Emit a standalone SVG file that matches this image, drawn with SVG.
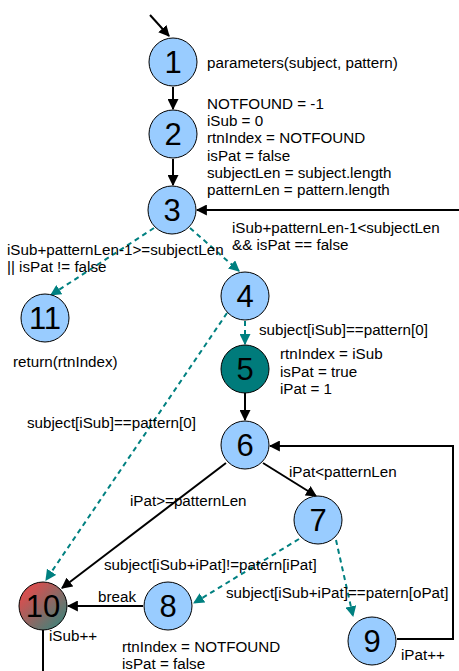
<svg xmlns="http://www.w3.org/2000/svg" width="459" height="671" viewBox="0 0 459 671">
<defs>
<style>
.n{fill:#99ccff;stroke:#000;stroke-width:1}
.num{font-family:"Liberation Sans",Arial,sans-serif;font-size:31px;text-anchor:middle;fill:#000}
.t{font-family:"Liberation Sans",Arial,sans-serif;font-size:15.2px;fill:#000}
.s{fill:none;stroke:#000;stroke-width:2}
.d{fill:none;stroke:#008080;stroke-width:2;stroke-dasharray:5,4}
</style>
<marker id="ab" viewBox="0 0 10 10" refX="9" refY="5" markerWidth="5.5" markerHeight="5.5" orient="auto" markerUnits="strokeWidth"><path d="M0,0 L10,5 L0,10 z" fill="#000"/></marker>
<marker id="at" viewBox="0 0 10 10" refX="9" refY="5" markerWidth="5.5" markerHeight="5.5" orient="auto" markerUnits="strokeWidth"><path d="M0,0 L10,5 L0,10 z" fill="#008080"/></marker>
<linearGradient id="g10" x1="0" y1="0" x2="1" y2="1"><stop offset="0.2" stop-color="#d45050"/><stop offset="1" stop-color="#2a8a80"/></linearGradient>
</defs>
<g id="connectors">
<line class="s" x1="150" y1="15" x2="169" y2="36" marker-end="url(#ab)"/>
<line class="s" x1="173" y1="87" x2="173" y2="109" marker-end="url(#ab)"/>
<line class="s" x1="173" y1="159" x2="173" y2="185" marker-end="url(#ab)"/>
<line class="s" x1="459" y1="210" x2="197" y2="210" marker-end="url(#ab)"/>
<line class="d" x1="154" y1="228" x2="51" y2="295" marker-end="url(#at)"/>
<line class="d" x1="190" y1="228" x2="239" y2="271" marker-end="url(#at)"/>
<line class="d" x1="245" y1="321" x2="245" y2="344" marker-end="url(#at)"/>
<line class="d" x1="227" y1="313" x2="46" y2="580" marker-end="url(#at)"/>
<line class="s" x1="245" y1="393" x2="245" y2="420" marker-end="url(#ab)"/>
<line class="s" x1="263" y1="463" x2="316" y2="496" marker-end="url(#ab)"/>
<line class="s" x1="226" y1="463" x2="62" y2="588" marker-end="url(#ab)"/>
<line class="d" x1="299" y1="539" x2="194" y2="603" marker-end="url(#at)"/>
<line class="d" x1="336" y1="540" x2="353" y2="616" marker-end="url(#at)"/>
<line class="s" x1="143" y1="606" x2="68" y2="606" marker-end="url(#ab)"/>
<polyline class="s" points="397,639 453,639 453,446 270,446" marker-end="url(#ab)"/>
<line class="s" x1="43" y1="630" x2="43" y2="671"/>
</g>
<g id="n1"><circle class="n" cx="173" cy="62" r="24"/><text class="num" x="173" y="73">1</text></g>
<g id="n2"><circle class="n" cx="173" cy="134" r="24"/><text class="num" x="173" y="145">2</text></g>
<g id="n3"><circle class="n" cx="172" cy="210" r="24"/><text class="num" x="172" y="221">3</text></g>
<g id="n4"><circle class="n" cx="245" cy="296" r="24"/><text class="num" x="245" y="307">4</text></g>
<g id="n5"><circle cx="245" cy="369" r="24" fill="#007b7b" stroke="#000" stroke-width="1"/><text class="num" x="245" y="380">5</text></g>
<g id="n6"><circle class="n" cx="245" cy="445" r="24"/><text class="num" x="245" y="456">6</text></g>
<g id="n7"><circle class="n" cx="318" cy="520" r="24"/><text class="num" x="318" y="531">7</text></g>
<g id="n8"><circle class="n" cx="168" cy="606" r="24"/><text class="num" x="168" y="617">8</text></g>
<g id="n9"><circle class="n" cx="372" cy="641" r="24"/><text class="num" x="372" y="652">9</text></g>
<g id="n10"><circle cx="43" cy="606" r="24" fill="url(#g10)" stroke="#000" stroke-width="1"/><text class="num" x="43" y="617">10</text></g>
<g id="n11"><circle class="n" cx="45" cy="318" r="24"/><text class="num" x="45" y="329">11</text></g>
<g id="labels">
<text class="t" x="207" y="68">parameters(subject, pattern)</text>
<text class="t" x="207" y="109">NOTFOUND = -1</text>
<text class="t" x="207" y="126">iSub = 0</text>
<text class="t" x="207" y="143">rtnIndex = NOTFOUND</text>
<text class="t" x="207" y="161">isPat = false</text>
<text class="t" x="207" y="178">subjectLen = subject.length</text>
<text class="t" x="207" y="195">patternLen = pattern.length</text>
<text class="t" x="232" y="233">iSub+patternLen-1&lt;subjectLen</text>
<text class="t" x="232" y="250">&amp;&amp; isPat == false</text>
<text class="t" x="7" y="255">iSub+patternLen-1&gt;=subjectLen</text>
<text class="t" x="7" y="272">|| isPat != false</text>
<text class="t" x="13" y="367">return(rtnIndex)</text>
<text class="t" x="259" y="335">subject[iSub]==pattern[0]</text>
<text class="t" x="280" y="359">rtnIndex = iSub</text>
<text class="t" x="280" y="377">isPat = true</text>
<text class="t" x="280" y="394">iPat = 1</text>
<text class="t" x="27" y="428">subject[iSub]==pattern[0]</text>
<text class="t" x="289" y="477">iPat&lt;patternLen</text>
<text class="t" x="130" y="506">iPat&gt;=patternLen</text>
<text class="t" x="104" y="570">subject[iSub+iPat]!=patern[iPat]</text>
<text class="t" x="226" y="598">subject[iSub+iPat]==patern[oPat]</text>
<text class="t" x="98" y="602">break</text>
<text class="t" x="49" y="641">iSub++</text>
<text class="t" x="122" y="652">rtnIndex = NOTFOUND</text>
<text class="t" x="122" y="669">isPat = false</text>
<text class="t" x="401" y="660">iPat++</text>
</g>
</svg>
